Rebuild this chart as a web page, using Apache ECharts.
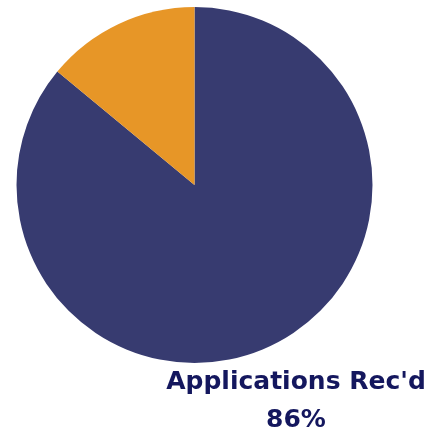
<!DOCTYPE html>
<html>
<head>
<meta charset="utf-8">
<style>
  html, body { margin: 0; padding: 0; background: #fff; }
  #main { width: 429px; height: 435px; }
</style>
<script src="https://cdn.jsdelivr.net/npm/echarts@6/dist/echarts.min.js"></script>
</head>
<body>
<div id="main"></div>
<script>
// slice names and percentage values
const categories = ["Applications Rec'd", "Other"];
const values = [86, 14];
const colors = ["#373B70", "#E79627"];

const chart = echarts.init(document.getElementById("main"));

const labelStyle = {
  fontFamily: "DejaVu Sans",
  fontWeight: "bold",
  fontSize: 25,
  fill: "#14175E",
  align: "center",
  verticalAlign: "middle",
};

const option = {
  backgroundColor: "#fff",
  animation: false,
  series: [
    {
      type: "pie",
      center: [194.5, 185],
      radius: [0, 178],
      startAngle: 90,
      clockwise: true,
      label: { show: false },
      labelLine: { show: false },
      emphasis: { disabled: true },
      data: categories.map((name, i) => ({
        name: name,
        value: values[i],
        itemStyle: { color: colors[i] },
      })),
    },
  ],
  graphic: [
    {
      type: "text",
      x: 296,
      y: 382,
      style: Object.assign({ text: categories[0] }, labelStyle),
    },
    {
      type: "text",
      x: 296,
      y: 420,
      style: Object.assign({ text: values[0] + "%" }, labelStyle),
    },
  ],
};

chart.setOption(option);
</script>
</body>
</html>
